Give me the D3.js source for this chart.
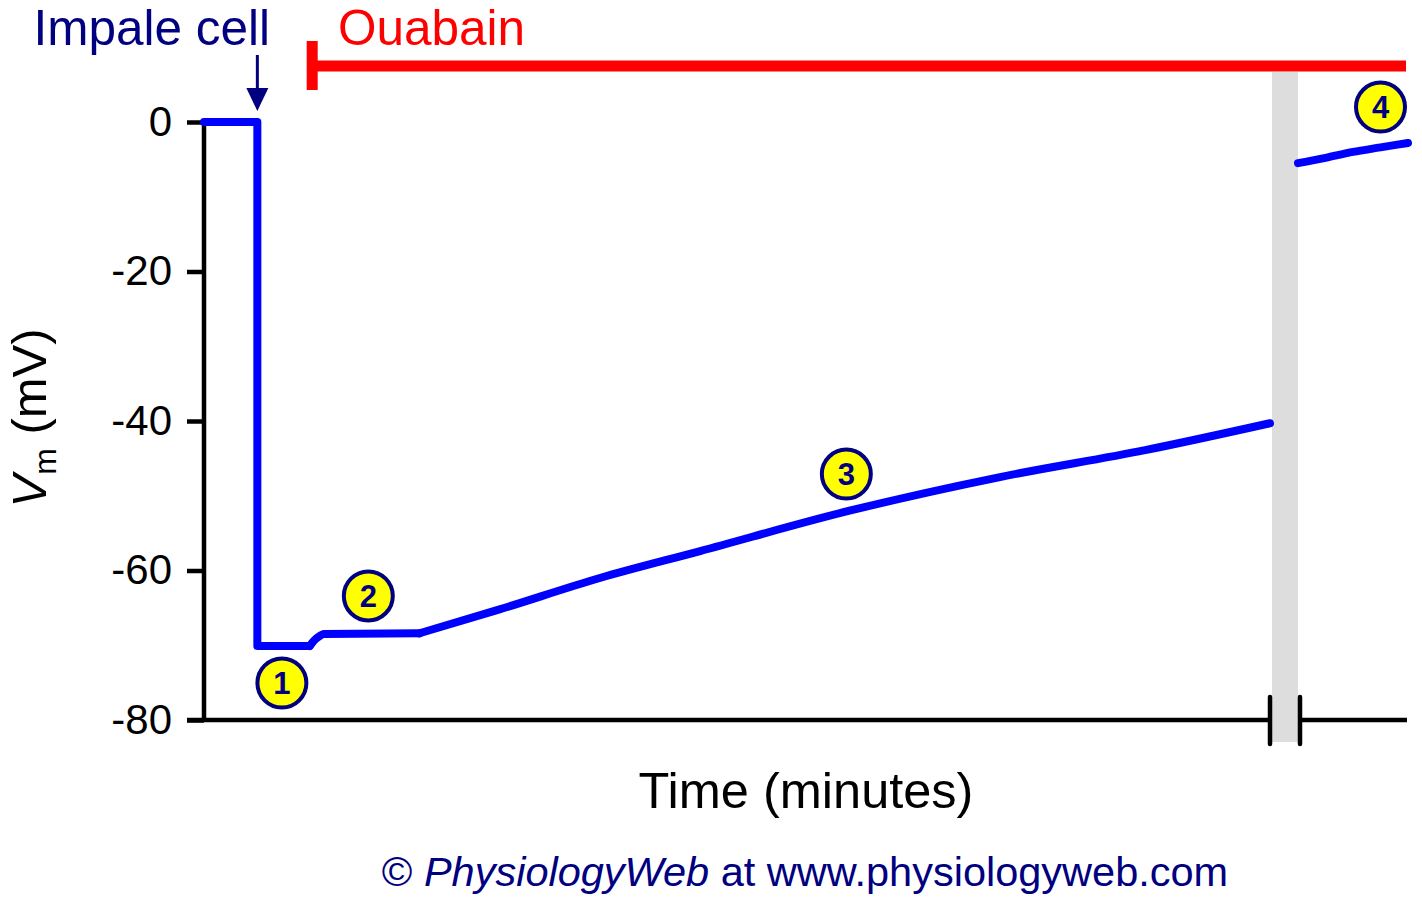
<!DOCTYPE html>
<html>
<head>
<meta charset="utf-8">
<script src="https://cdn.jsdelivr.net/npm/d3@7"></script>
<style>
  html, body { margin: 0; padding: 0; background: #fff; }
  svg { display: block; font-family: "Liberation Sans", Arial, sans-serif; }
</style>
</head>
<body>
<svg id="chart" width="1422" height="897"></svg>
<script>
// ---------- data ----------
const yTicks = [0, -20, -40, -60, -80];

// impale step (time in minutes, Vm in mV)
const stepT = [0, 5, 5, 9.9];
const stepV = [0, 0, -70.1, -70.1];

// after ouabain: small bump and plateau
const bumpT = [9.9, 10.3, 10.7, 11.25, 20.2];
const bumpV = [-70.1, -69.4, -68.9, -68.5, -68.4];

// slow depolarisation
const riseT = [20.2, 27.7, 37.1, 46.5, 60.5, 74.6, 88.2, 99.9];
const riseV = [-68.4, -65.2, -61.0, -57.4, -52.0, -47.5, -43.9, -40.3];

// after the time break
const lateT = [200, 202.5, 205, 207.5, 210];
const lateV = [-5.5, -4.8, -4.0, -3.4, -2.8];

// numbered markers
const markerLabels = ["1", "2", "3", "4"];
const markerT = [7.3, 15.4, 60.2, 207.5];
const markerV = [-75.05, -63.4, -47.1, 2.0];
const markerSide = ["L", "L", "L", "R"];

const impaleT = 5;
const ouabainStart = 10;
const ouabainEnd = 210;

// ---------- scales ----------
const svg = d3.select("#chart");
const y = d3.scaleLinear().domain([-80, 0]).range([720, 122]);
const xL = d3.scaleLinear().domain([0, 100]).range([204, 1271]);
const xR = d3.scaleLinear().domain([200, 210]).range([1298, 1408]);
const xAny = (t, side) => (side === "R" ? xR(t) : xL(t));

const navy = "#000080";
const blue = "#0000ff";

// gray break band
svg.append("rect")
  .attr("x", 1272).attr("y", 72)
  .attr("width", 26).attr("height", 670)
  .attr("fill", "#dddddd");

// y axis
const yAxis = d3.axisLeft(y).tickValues(yTicks).tickSize(17).tickPadding(15).tickFormat(d => String(d));
const gy = svg.append("g").attr("transform", `translate(${xL(0)},0)`).call(yAxis);
gy.select(".domain").remove();
gy.selectAll(".tick line").attr("stroke", "#000").attr("stroke-width", 4.5);
gy.selectAll(".tick text")
  .attr("font-size", 42).attr("fill", "#000")
  .attr("font-family", "Liberation Sans, Arial, sans-serif");
svg.append("line")
  .attr("x1", xL(0)).attr("x2", xL(0))
  .attr("y1", y(0)).attr("y2", y(-80) + 2)
  .attr("stroke", "#000").attr("stroke-width", 4.5);

// x axis (broken)
svg.append("line")
  .attr("x1", 187).attr("x2", xL(100) - 1)
  .attr("y1", y(-80)).attr("y2", y(-80))
  .attr("stroke", "#000").attr("stroke-width", 4.5);
svg.append("line")
  .attr("x1", xR(200) + 2).attr("x2", xR(210) - 1)
  .attr("y1", y(-80)).attr("y2", y(-80))
  .attr("stroke", "#000").attr("stroke-width", 4.5);
[xL(100) - 1, xR(200) + 2].forEach(px => {
  svg.append("line")
    .attr("x1", px).attr("x2", px)
    .attr("y1", y(-80) - 23).attr("y2", y(-80) + 24)
    .attr("stroke", "#000").attr("stroke-width", 4.5).attr("stroke-linecap", "round");
});

// trace
const toPts = (T, V) => T.map((t, i) => [t, V[i]]);
const lineL = d3.line().x(d => xL(d[0])).y(d => y(d[1]));
const lineLs = d3.line().x(d => xL(d[0])).y(d => y(d[1])).curve(d3.curveMonotoneX);
const lineRs = d3.line().x(d => xR(d[0])).y(d => y(d[1])).curve(d3.curveMonotoneX);
const traceStyle = sel => sel.attr("fill", "none").attr("stroke", blue)
  .attr("stroke-width", 8).attr("stroke-linejoin", "round").attr("stroke-linecap", "round");
svg.append("path").attr("d", lineL(toPts(stepT, stepV))).call(traceStyle);
svg.append("path").attr("d", lineLs(toPts(bumpT, bumpV))).call(traceStyle);
svg.append("path").attr("d", lineLs(toPts(riseT, riseV))).call(traceStyle);
svg.append("path").attr("d", lineRs(toPts(lateT, lateV))).call(traceStyle);

// ouabain bar
svg.append("line")
  .attr("x1", xL(ouabainStart)).attr("x2", xR(ouabainEnd) - 2)
  .attr("y1", 66).attr("y2", 66)
  .attr("stroke", "#ff0000").attr("stroke-width", 11);
svg.append("line")
  .attr("x1", xL(ouabainStart) + 1.5).attr("x2", xL(ouabainStart) + 1.5)
  .attr("y1", 41).attr("y2", 90)
  .attr("stroke", "#ff0000").attr("stroke-width", 11);
svg.append("text")
  .attr("x", 338).attr("y", 45)
  .attr("font-size", 49.5).attr("fill", "#ff0000")
  .text("Ouabain");

// impale arrow
const ax = xL(impaleT);
svg.append("line")
  .attr("x1", ax).attr("x2", ax).attr("y1", 55).attr("y2", 92)
  .attr("stroke", navy).attr("stroke-width", 3);
svg.append("path")
  .attr("d", `M${ax - 11},${88} L${ax + 11},${88} L${ax},${111} Z`)
  .attr("fill", navy);
svg.append("text")
  .attr("x", 270).attr("y", 45)
  .attr("text-anchor", "end")
  .attr("font-size", 49.5).attr("fill", navy)
  .text("Impale cell");

// markers
markerLabels.forEach((lab, i) => {
  const cx = xAny(markerT[i], markerSide[i]);
  const cy = y(markerV[i]);
  svg.append("circle")
    .attr("cx", cx).attr("cy", cy).attr("r", 24.5)
    .attr("fill", "#ffff00").attr("stroke", navy).attr("stroke-width", 4);
  svg.append("text")
    .attr("x", cx).attr("y", cy + 11)
    .attr("text-anchor", "middle")
    .attr("font-size", 31).attr("font-weight", "bold").attr("fill", navy)
    .text(lab);
});

// axis titles
svg.append("text")
  .attr("x", 806).attr("y", 808)
  .attr("text-anchor", "middle")
  .attr("font-size", 50.5).attr("fill", "#000")
  .text("Time (minutes)");

const yt = svg.append("text")
  .attr("transform", "translate(46,418) rotate(-90)")
  .attr("text-anchor", "middle")
  .attr("font-size", 49).attr("fill", "#000");
yt.append("tspan").attr("font-style", "italic").text("V");
yt.append("tspan").attr("font-size", 32).attr("dy", 10).text("m");
yt.append("tspan").attr("dy", -10).text(" (mV)");

// footer
const ft = svg.append("text")
  .attr("x", 805).attr("y", 886)
  .attr("text-anchor", "middle")
  .attr("font-size", 41.5).attr("fill", navy);
ft.append("tspan").text("© ");
ft.append("tspan").attr("font-style", "italic").text("PhysiologyWeb");
ft.append("tspan").text(" at www.physiologyweb.com");
</script>
</body>
</html>
